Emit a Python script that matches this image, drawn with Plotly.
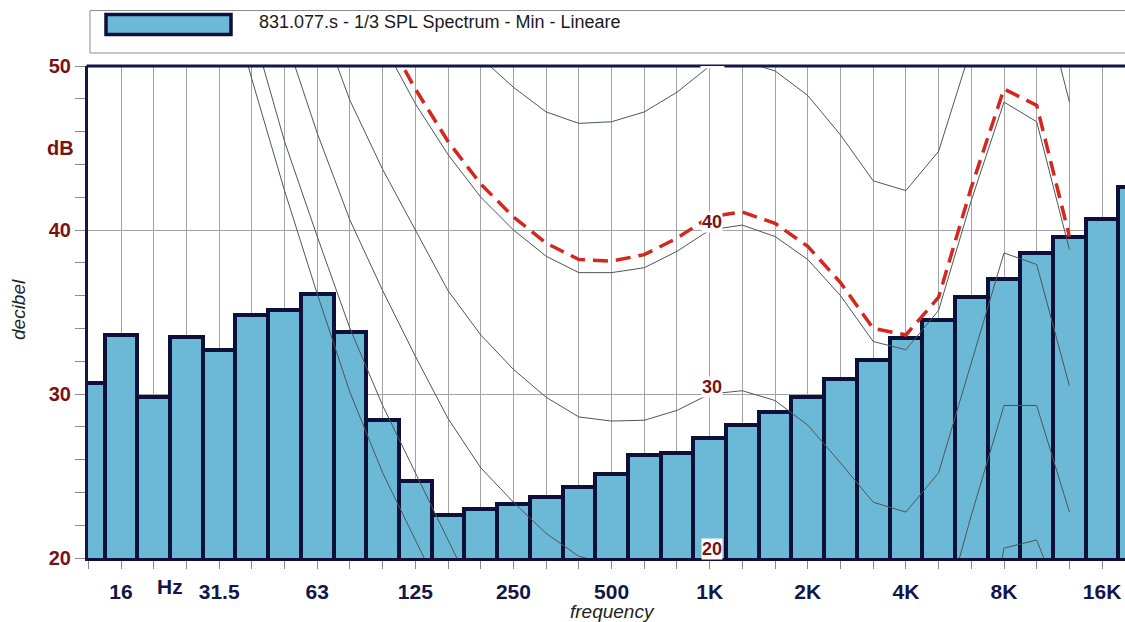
import plotly.graph_objects as go

# ---------------- data ----------------
bands = ["12.5", "16", "20", "25", "31.5", "40", "50", "63", "80", "100",
         "125", "160", "200", "250", "315", "400", "500", "630", "800", "1K",
         "1.25K", "1.6K", "2K", "2.5K", "3.15K", "4K", "5K", "6.3K", "8K", "10K",
         "12.5K", "16K", "20K"]

spl_min = [30.7, 33.6, 29.8, 33.5, 32.7, 34.8, 35.1, 36.1, 33.8, 28.4,
           24.7, 22.6, 23.0, 23.3, 23.7, 24.3, 25.1, 26.3, 26.4, 27.3,
           28.1, 28.9, 29.8, 30.9, 32.1, 33.4, 34.5, 35.9, 37.0, 38.6,
           39.6, 40.7, 42.6]

tick_labels = {"16": "16", "31.5": "31.5", "63": "63", "125": "125", "250": "250",
               "500": "500", "1K": "1K", "2K": "2K", "4K": "4K", "8K": "8K",
               "16K": "16K"}

contour_bands = bands[:31]  # contours end at 12.5 kHz
N = None
c0 = [N, N, N, N, 56.5, 49.2, 42.4, 36.1, 30.1, 25.2,
      21.1, 17.0, N, N, N, N, N, N, N, N,
      N, N, N, N, N, N, N, N, N, N, N]
c10 = [N, N, N, N, N, 52.4, 45.4, 39.6, 34.0, 29.3,
       25.2, 21.1, 17.0, N, N, N, N, N, N, N,
       N, N, N, N, N, N, N, 10.0, 20.6, 21.1, 16.0]
c20 = [N, N, N, N, N, N, 51.9, 45.9, 40.6, 36.3,
       32.3, 28.5, 25.5, 23.4, 21.5, 20.1, 19.6, 19.4, 19.6, 19.9,
       19.9, 19.6, 18.2, 15.8, 13.4, 12.7, 15.4, 22.6, 29.3, 29.3, 22.8]
c30 = [N, N, N, N, N, N, N, 53.3, 47.9, 43.7,
       40.0, 36.3, 33.6, 31.5, 29.8, 28.6, 28.35, 28.4, 29.0, 30.0,
       30.2, 29.6, 28.1, 25.8, 23.4, 22.8, 25.2, 31.9, 38.6, 37.9, 30.5]
c40 = [N, N, N, N, N, N, N, N, N, 51.4,
       47.7, 44.6, 42.0, 40.0, 38.4, 37.4, 37.4, 37.7, 38.7, 40.0,
       40.3, 39.6, 38.2, 36.0, 33.2, 32.7, 35.1, 41.8, 47.8, 46.6, 38.8]
c50 = [N, N, N, N, N, N, N, N, N, N,
       N, N, 50.5, 48.7, 47.2, 46.5, 46.6, 47.2, 48.4, 50.0,
       50.3, 49.7, 48.2, 45.8, 43.0, 42.4, 44.8, 51.1, 57.5, 55.7, 47.8]
loudness_fit = [N, N, N, N, N, N, N, N, N, 52.2,
                48.6, 45.4, 42.8, 40.8, 39.2, 38.2, 38.1, 38.5, 39.5, 40.8,
                41.1, 40.4, 39.0, 36.8, 34.0, 33.6, 35.9, 42.6, 48.6, 47.6, 39.6]

contour_labels = [("40", 40.5), ("30", 30.45), ("20", 20.55)]

legend_text = "831.077.s - 1/3 SPL Spectrum - Min - Lineare"

# ---------------- style ----------------
W, H = 1125, 622
L, R, T, B = 88, 0, 66, 64
BAR_FILL = "#6cb9d7"
BAR_EDGE = "#0d1038"
NAVY = "#12164a"
DARKRED = "#7a1212"
GRID = "#a3a3a3"
CONTOUR = "#4f5656"
RED = "#d2281e"
FONT = "Arial, Liberation Sans, sans-serif"

pw, ph = W - L - R, H - T - B


def px_x(px):
    return (px - L) / pw


def px_y(py):
    return (H - B - py) / ph


fig = go.Figure()

fig.add_trace(go.Bar(
    x=bands, y=spl_min, width=1.0,
    marker=dict(color=BAR_FILL, line=dict(color=BAR_EDGE, width=4)),
    showlegend=False, hoverinfo="x+y"))

for series in (c0, c10, c20, c30, c40, c50):
    fig.add_trace(go.Scatter(
        x=contour_bands, y=series, mode="lines",
        line=dict(color=CONTOUR, width=1), showlegend=False,
        connectgaps=False))

fig.add_trace(go.Scatter(
    x=contour_bands, y=loudness_fit, mode="lines",
    line=dict(color=RED, width=3.5, dash="15px,8px"), showlegend=False))

annotations = []
for txt, yv in contour_labels:
    annotations.append(dict(x=19.07, y=yv, xref="x", yref="y", text=txt,
                            showarrow=False, bgcolor="white", borderpad=0,
                            font=dict(family=FONT, size=18, color=DARKRED, weight="bold")))

annotations += [
    dict(x=px_x(76), y=45, xref="paper", yref="y", text="dB", showarrow=False,
         xanchor="right", yanchor="middle",
         font=dict(family=FONT, size=20, color=DARKRED, weight="bold")),
    dict(x=px_x(170), y=px_y(586), xref="paper", yref="paper", text="Hz",
         showarrow=False, xanchor="center", yanchor="middle",
         font=dict(family=FONT, size=21, color=NAVY, weight="bold")),
    dict(x=px_x(612), y=px_y(611), xref="paper", yref="paper", text="frequency",
         showarrow=False, xanchor="center", yanchor="middle",
         font=dict(family=FONT, size=19, color="#222", style="italic")),
    dict(x=px_x(18), y=px_y(310), xref="paper", yref="paper", text="decibel",
         showarrow=False, textangle=-90, xanchor="center", yanchor="middle",
         font=dict(family=FONT, size=19, color="#222", style="italic")),
    dict(x=px_x(257), y=px_y(22), xref="paper", yref="paper", text=legend_text,
         showarrow=False, xanchor="left", yanchor="middle",
         font=dict(family=FONT, size=18, color="#1a1a1a")),
]

shapes = [
    # legend frame
    dict(type="rect", xref="paper", yref="paper", x0=px_x(90), x1=px_x(1140),
         y0=px_y(53), y1=px_y(10.5), line=dict(color="#8c8c8c", width=1),
         fillcolor="white", layer="above"),
    # legend swatch
    dict(type="rect", xref="paper", yref="paper", x0=px_x(106), x1=px_x(231),
         y0=px_y(34.5), y1=px_y(14.5), line=dict(color=BAR_EDGE, width=3.5),
         fillcolor=BAR_FILL, layer="above"),
    # top border
    dict(type="line", xref="paper", yref="paper", x0=px_x(86.5), x1=1.0,
         y0=1, y1=1, line=dict(color=NAVY, width=3), layer="above"),
    # white label box of 50 contour interrupting the top border
    dict(type="rect", xref="x", yref="y", x0=18.72, x1=19.45, y0=49.85, y1=50.3,
         line=dict(width=0), fillcolor="white", layer="above"),
]

fig.update_layout(
    width=W, height=H,
    margin=dict(l=L, r=R, t=T, b=B, pad=0, autoexpand=False),
    plot_bgcolor="white", paper_bgcolor="white",
    font=dict(family=FONT),
    annotations=annotations, shapes=shapes,
    bargap=0,
    xaxis=dict(
        type="category", categoryorder="array", categoryarray=bands,
        range=[-0.01, 31.70], automargin=False,
        tickmode="array", tickvals=bands,
        ticktext=[tick_labels.get(b, "") for b in bands],
        showgrid=True, gridcolor=GRID, gridwidth=1,
        ticks="outside", ticklen=8, tickcolor="#8a8a8a", tickwidth=1,
        showline=True, linecolor=BAR_EDGE, linewidth=3,
        tickfont=dict(family=FONT, size=21, color=NAVY, weight="bold"),
        ticklabelstandoff=5,
        zeroline=False, fixedrange=True,
    ),
    yaxis=dict(
        range=[20, 50], tickmode="array", tickvals=[20, 30, 40, 50],
        automargin=False,
        showgrid=True, gridcolor=GRID, gridwidth=1,
        ticks="outside", ticklen=10, tickcolor="#8a8a8a", tickwidth=1,
        minor=dict(dtick=2, ticks="outside", ticklen=10, tickcolor="#8a8a8a",
                   showgrid=False),
        showline=True, linecolor=NAVY, linewidth=3,
        tickfont=dict(family=FONT, size=20, color=DARKRED, weight="bold"),
        zeroline=False, fixedrange=True,
    ),
)

fig.write_html(
    "out.html",
    config={"displayModeBar": False},
    post_script="document.body.style.margin='0';document.body.style.overflow='hidden';",
)
